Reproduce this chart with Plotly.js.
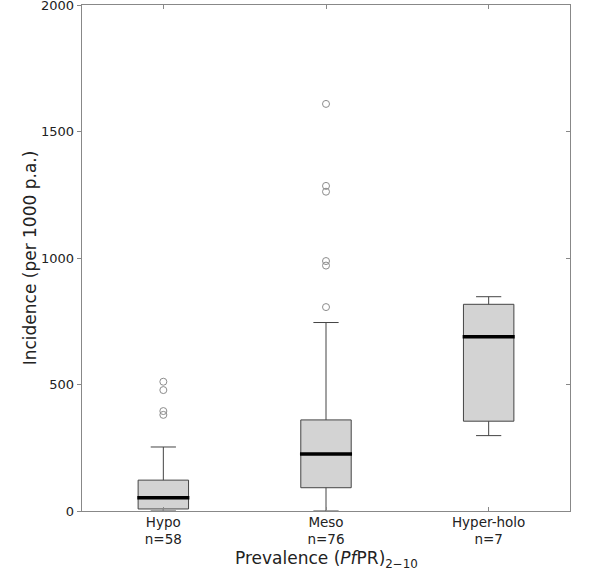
<!DOCTYPE html>
<html>
<head>
<meta charset="utf-8">
<script src="https://cdn.plot.ly/plotly-3.0.1.min.js"></script>
<style>html,body{margin:0;padding:0;background:#fff;}#chart{width:600px;height:571px;}</style>
</head>
<body>
<div id="chart"></div>
<script>
// Data
var categories = ["Hypo", "Meso", "Hyper-holo"];
var counts = [58, 76, 7];
var positions = [1, 2, 3];
var lowerFence = [0, 0, 298];
var q1 = [8, 92, 355];
var median = [52, 225, 689];
var q3 = [122, 360, 817];
var upperFence = [253, 745, 847];
var outliersHypo = [511, 478, 395, 380];
var outliersMeso = [1609, 1285, 1262, 988, 970, 806];
var outliersHyper = [];
var yTicks = [0, 500, 1000, 1500, 2000];
var xTitle = "Prevalence (<i>Pf</i>PR)<sub>2\u221210</sub>";
var yTitle = "Incidence (per 1000 p.a.)";

var boxWidth = 0.31;
var tickText = categories.map(function (c, i) { return c + "<br>n=" + counts[i]; });

var outX = [], outY = [];
[outliersHypo, outliersMeso, outliersHyper].forEach(function (arr, i) {
  arr.forEach(function (v) { outX.push(positions[i]); outY.push(v); });
});

var medX = [], medY = [];
positions.forEach(function (p, i) {
  medX.push(p - boxWidth / 2 - 0.005, p + boxWidth / 2 + 0.005, null);
  medY.push(median[i], median[i], null);
});

var traces = [
  {
    type: "box",
    x: positions,
    q1: q1, median: median, q3: q3,
    lowerfence: lowerFence, upperfence: upperFence,
    width: boxWidth,
    whiskerwidth: 0.5,
    fillcolor: "#d3d3d3",
    line: { color: "#444444", width: 1 },
    boxpoints: false,
    hoverinfo: "skip",
    showlegend: false
  },
  {
    type: "scatter", mode: "lines",
    x: medX, y: medY,
    line: { color: "#000000", width: 3.5 },
    hoverinfo: "skip", showlegend: false
  },
  {
    type: "scatter", mode: "markers",
    x: outX, y: outY,
    marker: { symbol: "circle-open", size: 7, color: "#8c8c8c", line: { width: 1, color: "#8c8c8c" } },
    hoverinfo: "skip", showlegend: false
  },
  {
    type: "scatter", mode: "markers", x: [1], y: [0], yaxis: "y2",
    marker: { opacity: 0 }, hoverinfo: "skip", showlegend: false
  }
];

var font = { family: "DejaVu Sans, sans-serif", color: "#222222", size: 13 };

var layout = {
  width: 600, height: 571,
  margin: { l: 82, r: 30, t: 5, b: 60, pad: 0 },
  paper_bgcolor: "#ffffff", plot_bgcolor: "#ffffff",
  font: font,
  showlegend: false,
  xaxis: {
    range: [0.5, 3.5],
    tickmode: "array", tickvals: positions, ticktext: tickText,
    ticks: "inside", ticklen: 4, tickcolor: "#888888",
    ticklabelstandoff: -2,
    showline: true, linecolor: "#888888", linewidth: 1.3, mirror: "ticks",
    showgrid: false, zeroline: false,
    tickfont: { family: "DejaVu Sans, sans-serif", size: 13.5, color: "#222222" }
  },
  yaxis: {
    range: [0, 2000],
    tickmode: "array", tickvals: yTicks,
    ticks: "outside", ticklen: 4, tickcolor: "#888888",
    ticklabeloverflow: "allow",
    showline: true, linecolor: "#888888", linewidth: 1.3, mirror: true,
    showgrid: false, zeroline: false,
    tickfont: { family: "DejaVu Sans, sans-serif", size: 13, color: "#222222" },
    title: { text: yTitle, standoff: 0,
      font: { family: "DejaVu Sans, sans-serif", size: 17, color: "#222222" } }
  },
  yaxis2: {
    overlaying: "y", side: "right", range: [0, 2000],
    tickmode: "array", tickvals: yTicks,
    ticks: "inside", ticklen: 4, tickcolor: "#888888",
    showticklabels: false, showline: false, showgrid: false, zeroline: false
  },
  annotations: [{
    text: xTitle, xref: "paper", yref: "paper", x: 0.5, y: 0,
    xanchor: "center", yanchor: "top", yshift: -35, showarrow: false,
    font: { family: "DejaVu Sans, sans-serif", size: 17, color: "#222222" }
  }]
};

Plotly.newPlot("chart", traces, layout, { staticPlot: true, displayModeBar: false });
</script>
</body>
</html>
